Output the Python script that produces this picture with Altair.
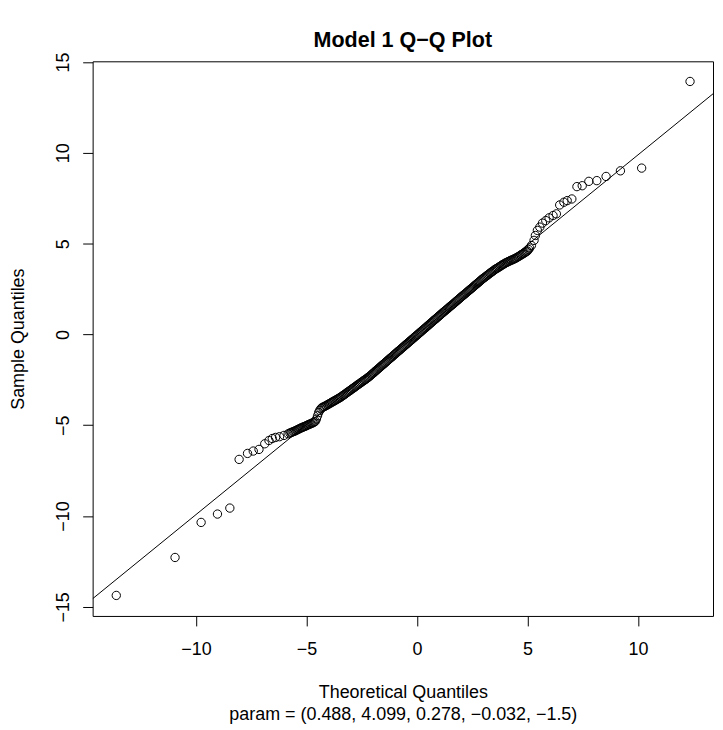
import altair as alt
import pandas as pd

# ---- data ----
# lower tail (individual points)
low_x = [-13.61, -10.95, -9.77, -9.03, -8.47, -8.05, -7.67, -7.41, -7.15, -6.89,
         -6.70, -6.55, -6.40, -6.22, -6.02, -5.83]
low_y = [-14.37, -12.28, -10.35, -9.89, -9.56, -6.88, -6.55, -6.42, -6.33, -6.02,
         -5.84, -5.73, -5.67, -5.63, -5.56, -5.47]

# flat stretch of the band just before the lower kink
kink_lo_x = [-5.75, -5.70, -5.65, -5.60, -5.55, -5.50, -5.45, -5.40, -5.35, -5.30,
             -5.25, -5.20, -5.15, -5.10, -5.05, -5.00, -4.95, -4.90, -4.85, -4.80,
             -4.75, -4.70, -4.65, -4.60, -4.55, -4.50, -4.45, -4.40, -4.35, -4.30,
             -4.25, -4.20]
kink_lo_y = [-5.43, -5.40, -5.38, -5.35, -5.33, -5.30, -5.27, -5.24, -5.21, -5.18,
             -5.15, -5.12, -5.10, -5.07, -5.05, -5.02, -4.99, -4.96, -4.94, -4.91,
             -4.88, -4.86, -4.82, -4.78, -4.66, -4.48, -4.30, -4.18, -4.09, -4.03,
             -4.00, -3.97]

# dense central band
band_x = [-4.15, -4.10, -4.05, -4.00, -3.95, -3.90, -3.85, -3.80, -3.75, -3.70,
          -3.65, -3.60, -3.55, -3.50, -3.45, -3.40, -3.35, -3.30, -3.25, -3.20,
          -3.15, -3.10, -3.05, -3.00, -2.95, -2.90, -2.85, -2.80, -2.75, -2.70,
          -2.65, -2.60, -2.55, -2.50, -2.45, -2.40, -2.35, -2.30, -2.25, -2.20,
          -2.15, -2.10, -2.05, -2.00, -1.95, -1.90, -1.85, -1.80, -1.75, -1.70,
          -1.65, -1.60, -1.55, -1.50, -1.45, -1.40, -1.35, -1.30, -1.25, -1.20,
          -1.15, -1.10, -1.05, -1.00, -0.95, -0.90, -0.85, -0.80, -0.75, -0.70,
          -0.65, -0.60, -0.55, -0.50, -0.45, -0.40, -0.35, -0.30, -0.25, -0.20,
          -0.15, -0.10, -0.05, 0.00, 0.05, 0.10, 0.15, 0.20, 0.25, 0.30,
          0.35, 0.40, 0.45, 0.50, 0.55, 0.60, 0.65, 0.70, 0.75, 0.80,
          0.85, 0.90, 0.95, 1.00, 1.05, 1.10, 1.15, 1.20, 1.25, 1.30,
          1.35, 1.40, 1.45, 1.50, 1.55, 1.60, 1.65, 1.70, 1.75, 1.80,
          1.85, 1.90, 1.95, 2.00, 2.05, 2.10, 2.15, 2.20, 2.25, 2.30,
          2.35, 2.40, 2.45, 2.50, 2.55, 2.60, 2.65, 2.70, 2.75, 2.80,
          2.85, 2.90, 2.95, 3.00, 3.05, 3.10, 3.15, 3.20, 3.25, 3.30,
          3.35, 3.40, 3.45, 3.50, 3.55, 3.60, 3.65, 3.70, 3.75, 3.80,
          3.85, 3.90, 3.95, 4.00, 4.05, 4.10, 4.15, 4.20, 4.25, 4.30,
          4.35, 4.40, 4.45, 4.50, 4.55, 4.60, 4.65, 4.70, 4.75, 4.80,
          4.85, 4.90, 4.95, 5.00, 5.05, 5.10]
band_y = [-3.94, -3.91, -3.87, -3.84, -3.80, -3.77, -3.73, -3.70, -3.66, -3.63,
          -3.59, -3.56, -3.52, -3.49, -3.45, -3.41, -3.36, -3.32, -3.28, -3.23,
          -3.19, -3.14, -3.10, -3.06, -3.01, -2.97, -2.93, -2.88, -2.84, -2.79,
          -2.75, -2.71, -2.66, -2.62, -2.58, -2.53, -2.49, -2.45, -2.40, -2.36,
          -2.31, -2.26, -2.20, -2.15, -2.10, -2.04, -1.99, -1.94, -1.88, -1.83,
          -1.78, -1.72, -1.67, -1.62, -1.57, -1.51, -1.46, -1.41, -1.35, -1.30,
          -1.25, -1.20, -1.14, -1.09, -1.04, -0.98, -0.93, -0.88, -0.83, -0.77,
          -0.72, -0.67, -0.61, -0.56, -0.51, -0.46, -0.40, -0.35, -0.30, -0.25,
          -0.19, -0.14, -0.09, -0.04, 0.01, 0.07, 0.12, 0.17, 0.23, 0.28,
          0.33, 0.38, 0.44, 0.49, 0.54, 0.60, 0.65, 0.70, 0.76, 0.81,
          0.86, 0.91, 0.97, 1.02, 1.07, 1.12, 1.18, 1.23, 1.28, 1.33,
          1.38, 1.43, 1.49, 1.54, 1.59, 1.64, 1.69, 1.74, 1.80, 1.85,
          1.90, 1.95, 2.01, 2.06, 2.11, 2.16, 2.21, 2.26, 2.31, 2.37,
          2.42, 2.47, 2.52, 2.57, 2.62, 2.68, 2.73, 2.78, 2.83, 2.88,
          2.93, 2.99, 3.04, 3.09, 3.13, 3.18, 3.23, 3.27, 3.32, 3.37,
          3.41, 3.46, 3.50, 3.55, 3.59, 3.63, 3.66, 3.70, 3.74, 3.78,
          3.82, 3.86, 3.89, 3.93, 3.96, 3.99, 4.02, 4.05, 4.08, 4.10,
          4.13, 4.16, 4.19, 4.22, 4.26, 4.29, 4.33, 4.37, 4.41, 4.44,
          4.48, 4.52, 4.56, 4.60, 4.68, 4.76]

# upper tail (individual points)
up_x = [5.18, 5.30, 5.36, 5.45, 5.56, 5.68, 5.83, 5.98, 6.16, 6.31, 6.46, 6.65,
        6.80, 7.01, 7.24, 7.48, 7.78, 8.14, 8.56, 9.21, 10.17, 12.36]
up_y = [4.90, 5.18, 5.45, 5.73, 5.91, 6.13, 6.27, 6.42, 6.55, 6.64, 7.13, 7.28,
        7.37, 7.46, 8.14, 8.19, 8.43, 8.47, 8.70, 9.01, 9.16, 13.93]

# reference line (qqline) end points at the plot edges
line_x = [-14.68, 13.40]
line_y = [-14.55, 13.25]

x_ticks = [-10, -5, 0, 5, 10]
y_ticks = [-15, -10, -5, 0, 5, 10, 15]
x_domain = [-14.68, 13.40]
y_domain = [-15.50, 15.04]

title_text = "Model 1 Q\u2212Q Plot"
x_title = ["Theoretical Quantiles",
           "param = (0.488, 4.099, 0.278, \u22120.032, \u22121.5)"]
y_title = "Sample Quantiles"

FONT = "Liberation Sans"

pts = pd.DataFrame({"x": low_x + kink_lo_x + band_x + up_x,
                    "y": low_y + kink_lo_y + band_y + up_y})
ln = pd.DataFrame({"x": line_x, "y": line_y})

xscale = alt.Scale(domain=x_domain, nice=False, zero=False)
yscale = alt.Scale(domain=y_domain, nice=False, zero=False)

xaxis = alt.Axis(values=x_ticks, title=x_title, tickSize=10, labelPadding=15,
                 titleY=68, titleBaseline="top", titleLineHeight=21.6,
                 titleFontWeight="normal", titleFontSize=18, titleFont=FONT)
yaxis = alt.Axis(values=y_ticks, title=y_title, tickSize=10, labelPadding=10,
                 labelAngle=270, labelAlign="center", labelBaseline="bottom",
                 titleX=-74, titleY=278.5, titleBaseline="middle", titleAngle=270,
                 titleFontWeight="normal", titleFontSize=18, titleFont=FONT)

points = alt.Chart(pts).mark_point(
    shape="circle", filled=False, color="black", size=70, strokeWidth=1, opacity=1
).encode(
    x=alt.X("x:Q", scale=xscale, axis=xaxis),
    y=alt.Y("y:Q", scale=yscale, axis=yaxis),
)

line = alt.Chart(ln).mark_line(color="black", strokeWidth=1, clip=True).encode(
    x=alt.X("x:Q", scale=xscale),
    y=alt.Y("y:Q", scale=yscale),
)

chart = alt.layer(line, points).properties(
    width=623,
    height=557,
    title=alt.TitleParams(title_text, font=FONT, fontSize=21.6, fontWeight="bold",
                          color="black", anchor="middle", baseline="alphabetic",
                          offset=12, dy=29),
    autosize=alt.AutoSizeParams(type="none"),
    padding={"left": 85, "top": 52, "right": 2, "bottom": 113},
    background="white",
).configure_view(
    stroke="black", strokeWidth=1, fill="white"
).configure_axis(
    grid=False, domain=False, tickColor="black", tickWidth=1,
    labelFont=FONT, labelFontSize=18, labelColor="black",
    titleColor="black",
)

chart.save("out.html", embed_options={"renderer": "svg", "actions": False})
